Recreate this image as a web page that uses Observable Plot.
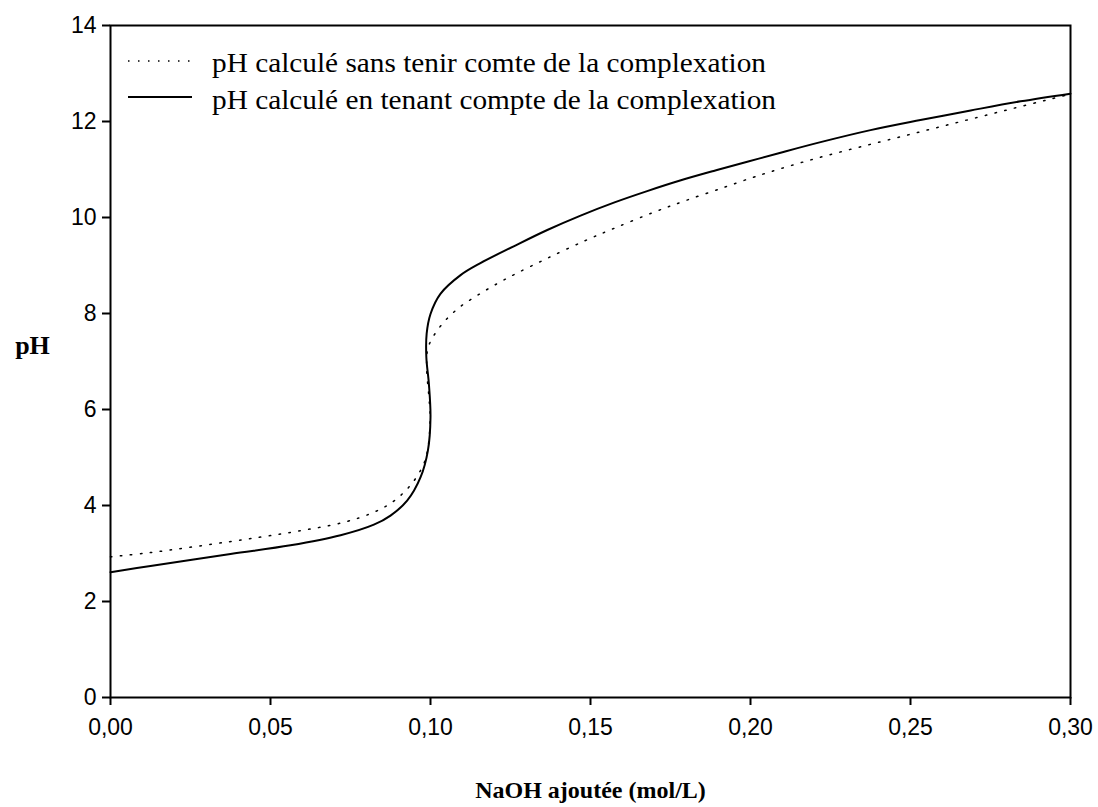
<!DOCTYPE html>
<html>
<head>
<meta charset="utf-8">
<script src="https://cdn.jsdelivr.net/npm/d3@7"></script>
<script src="https://cdn.jsdelivr.net/npm/@observablehq/plot@0.6"></script>
<style>
  html, body { margin: 0; padding: 0; background: white; }
  #wrap { position: relative; width: 1098px; height: 807px; }
  #legend { position: absolute; left: 0; top: 0; pointer-events: none; }
  #wrap svg g[aria-label="x-axis tick label"],
  #wrap svg g[aria-label="y-axis tick label"] { font-size: 23px; }
</style>
</head>
<body>
<div id="wrap"></div>
<script>
// --- data ---
const xSolid  = [0, 0.0125, 0.0375, 0.05625, 0.0719, 0.0823, 0.0875, 0.0927, 0.0969, 0.0992, 0.1000, 0.0995, 0.0987, 0.0988, 0.1000, 0.1031, 0.1094, 0.1156, 0.126, 0.1365, 0.1469, 0.1573, 0.1677, 0.178, 0.1885, 0.199, 0.2094, 0.2219, 0.2375, 0.2531, 0.2688, 0.2844, 0.30];
const pHSolid = [2.61, 2.74, 2.99, 3.17, 3.38, 3.60, 3.79, 4.10, 4.59, 5.15, 5.84, 6.53, 7.09, 7.58, 7.99, 8.41, 8.80, 9.05, 9.40, 9.74, 10.04, 10.31, 10.55, 10.77, 10.97, 11.16, 11.35, 11.57, 11.82, 12.03, 12.23, 12.42, 12.58];

const xDotted  = [0, 0.0125, 0.0365, 0.05625, 0.0729, 0.0823, 0.0885, 0.0941, 0.0979, 0.0992, 0.0999, 0.0995, 0.0988, 0.0993, 0.1028, 0.1085, 0.1146, 0.1208, 0.127, 0.1365, 0.1484, 0.1576, 0.1698, 0.1792, 0.1914, 0.2005, 0.2066, 0.2188, 0.2313, 0.2438, 0.2563, 0.2688, 0.2813, 0.2927, 0.30];
const pHDotted = [2.93, 3.02, 3.24, 3.44, 3.65, 3.86, 4.09, 4.45, 4.87, 5.2, 5.85, 6.26, 6.88, 7.30, 7.71, 8.10, 8.375, 8.62, 8.84, 9.15, 9.52, 9.78, 10.11, 10.34, 10.62, 10.83, 10.96, 11.20, 11.42, 11.63, 11.84, 12.05, 12.26, 12.45, 12.57];

const xTicks = [0, 0.05, 0.10, 0.15, 0.20, 0.25, 0.30];
const yTicks = [0, 2, 4, 6, 8, 10, 12, 14];

const seriesLabels = [
  "pH calculé sans tenir comte de la complexation",
  "pH calculé en tenant compte de la complexation"
];
const xLabel = "NaOH ajoutée (mol/L)";
const yLabel = "pH";

const solid = xSolid.map((x, i) => ({x, y: pHSolid[i]}));
const dotted = xDotted.map((x, i) => ({x, y: pHDotted[i]}));

const fmt = d => d3.format(".2f")(d).replace(".", ",");

const chart = Plot.plot({
  width: 1098,
  height: 807,
  marginTop: 25,
  marginLeft: 110,
  marginRight: 28,
  marginBottom: 110,
  style: { fontFamily: "'Liberation Sans', Arial, sans-serif", fontSize: "23px", color: "black", background: "white" },
  x: { domain: [0, 0.3] },
  y: { domain: [0, 14] },
  marks: [
    Plot.axisX({ ticks: xTicks, tickFormat: fmt, tickSize: 8, tickPadding: 13, strokeWidth: 2, label: null, fontSize: 23 }),
    Plot.axisY({ ticks: yTicks, tickSize: 8, tickPadding: 6, strokeWidth: 2, label: null, fontSize: 23 }),
    Plot.frame({ stroke: "black", strokeWidth: 2 }),
    Plot.line(dotted, { x: "x", y: "y", curve: "catmull-rom", stroke: "black", strokeWidth: 1.5, strokeDasharray: "1.5 8.5" }),
    Plot.line(solid, { x: "x", y: "y", curve: "catmull-rom", stroke: "black", strokeWidth: 2 }),
    Plot.text([xLabel], { frameAnchor: "bottom", dy: 100, fontFamily: "'Liberation Serif', 'Times New Roman', serif", fontWeight: "bold", fontSize: 24, fill: "black" }),
    Plot.text([yLabel], { frameAnchor: "left", dx: -78, dy: -16, textAnchor: "middle", fontFamily: "'Liberation Serif', 'Times New Roman', serif", fontWeight: "bold", fontSize: 26, fill: "black" })
  ]
});

const wrap = document.getElementById("wrap");
wrap.appendChild(chart);

// legend overlay (inside the plot area, top-left)
const ns = "http://www.w3.org/2000/svg";
const leg = document.createElementNS(ns, "svg");
leg.setAttribute("id", "legend");
leg.setAttribute("width", 1098);
leg.setAttribute("height", 140);
const rows = [
  { dash: "1.5 8.5", width: 1.5, yLine: 61, yText: 72, len: 554 },
  { dash: null, width: 2, yLine: 97, yText: 109, len: 564 }
];
rows.forEach((r, i) => {
  const l = document.createElementNS(ns, "line");
  l.setAttribute("x1", 128); l.setAttribute("x2", 192);
  l.setAttribute("y1", r.yLine); l.setAttribute("y2", r.yLine);
  l.setAttribute("stroke", "black");
  l.setAttribute("stroke-width", r.width);
  if (r.dash) l.setAttribute("stroke-dasharray", r.dash);
  leg.appendChild(l);
  const t = document.createElementNS(ns, "text");
  t.setAttribute("x", 212); t.setAttribute("y", r.yText);
  t.setAttribute("font-family", "'Liberation Serif', 'Times New Roman', serif");
  t.setAttribute("font-size", 27);
  t.setAttribute("textLength", r.len);
  t.setAttribute("lengthAdjust", "spacingAndGlyphs");
  t.setAttribute("fill", "black");
  t.textContent = seriesLabels[i];
  leg.appendChild(t);
});
wrap.appendChild(leg);
</script>
</body>
</html>
